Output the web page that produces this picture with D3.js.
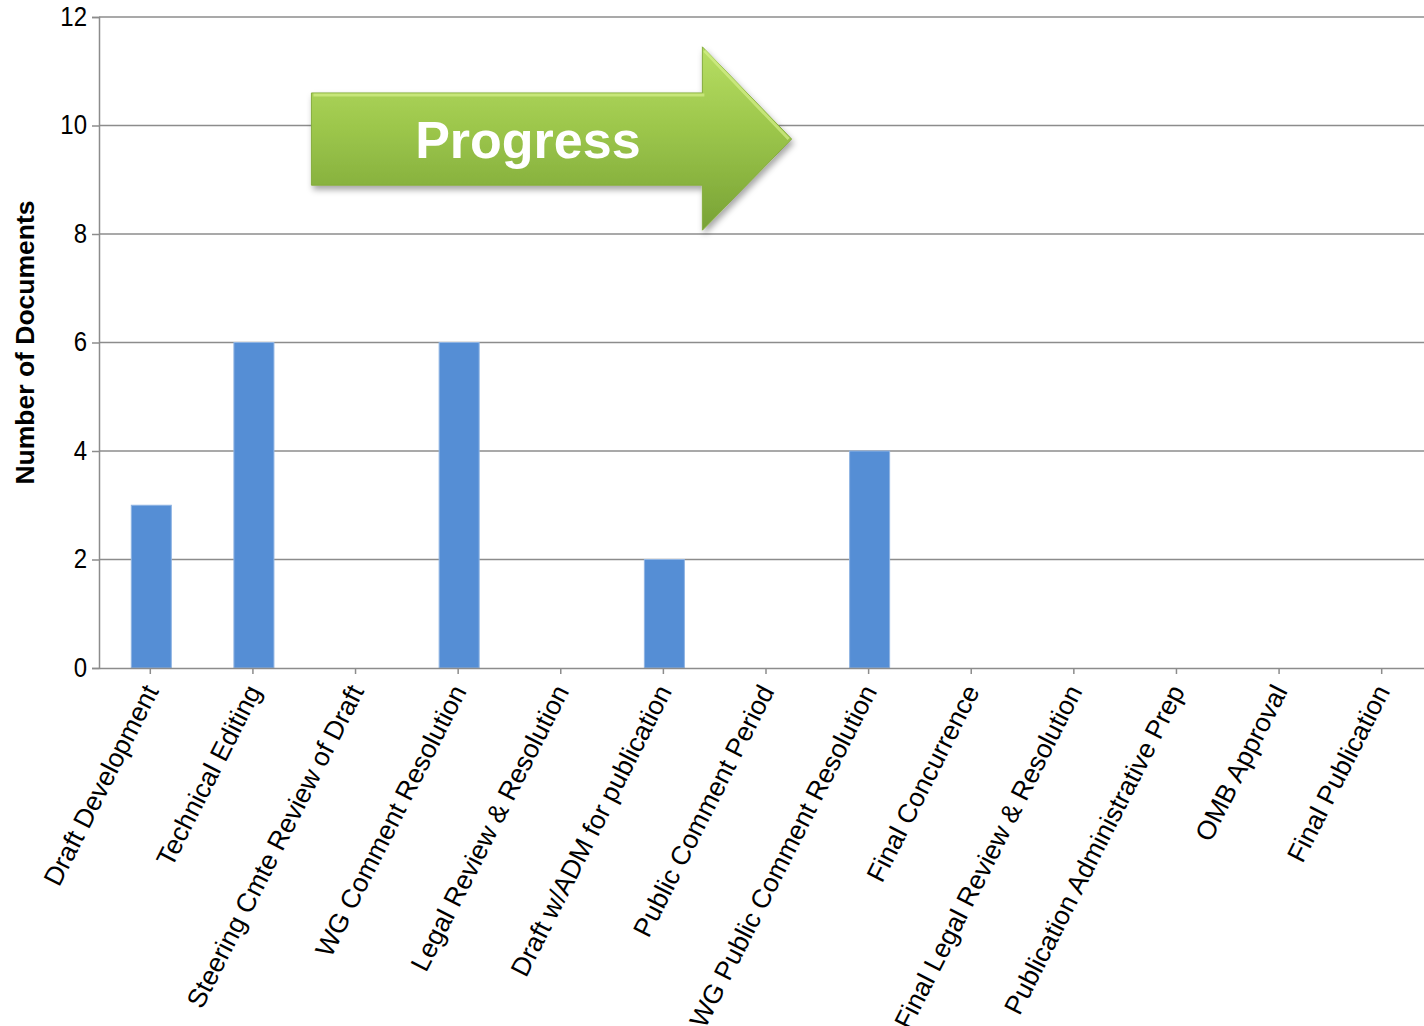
<!DOCTYPE html>
<html>
<head>
<meta charset="utf-8">
<script src="https://cdn.jsdelivr.net/npm/d3@7"></script>
<style>
  body { margin: 0; background: #fff; }
  text { font-family: "Liberation Sans", Arial, sans-serif; }
</style>
</head>
<body>
<script>
var categories = ["Draft Development", "Technical Editing", "Steering Cmte Review of Draft",
  "WG Comment Resolution", "Legal Review & Resolution", "Draft w/ADM for publication",
  "Public Comment Period", "WG Public Comment Resolution", "Final Concurrence",
  "Final Legal Review & Resolution", "Publication Administrative Prep", "OMB Approval",
  "Final Publication"];
var documents = [3, 6, 0, 6, 0, 2, 0, 4, 0, 0, 0, 0, 0];
var yTicks = [0, 2, 4, 6, 8, 10, 12];

d3.select("body").append("svg")
  .attr("width", 1424)
  .attr("height", 1026);

var svg = d3.select("svg");

var margin = { top: 17, left: 99, bottom: 358 };
var height = 1026 - margin.top - margin.bottom;

var xScale = d3.scaleBand().domain(categories).range([margin.left, 1433]).paddingInner(0.61).paddingOuter(0.305);
var yScale = d3.scaleLinear().domain([0, 12]).range([margin.top + height, margin.top]);

// gridlines
svg.append("g").selectAll("line")
  .data(yTicks.filter(function(d) { return d > 0; }))
  .enter().append("line")
  .attr("x1", margin.left).attr("x2", 1424)
  .attr("y1", function(d) { return yScale(d); })
  .attr("y2", function(d) { return yScale(d); })
  .attr("stroke", "#8c8c8c").attr("stroke-width", 1.5);

// bars
svg.append("g").selectAll("rect")
  .data(documents)
  .enter().append("rect")
  .attr("x", function(d, i) { return xScale(categories[i]) + 1; })
  .attr("width", xScale.bandwidth())
  .attr("y", function(d) { return yScale(d); })
  .attr("height", function(d) { return yScale(0) - yScale(d); })
  .attr("fill", "#558ed5")
  .attr("stroke", "#8fb4e3").attr("stroke-width", d => d > 0 ? 1 : 0);

// y axis
var yAxis = svg.append("g")
  .attr("transform", "translate(" + margin.left + ",0)")
  .call(d3.axisLeft(yScale).tickValues(yTicks).tickSize(7).tickPadding(5));
yAxis.select(".domain").attr("stroke", "#8c8c8c").attr("stroke-width", 1.5);
yAxis.selectAll(".tick line").attr("stroke", "#8c8c8c").attr("stroke-width", 1.5);
yAxis.selectAll(".tick text").style("font-size", "24px").attr("fill", "#000")
  .attr("transform", "scale(1,1.12)").attr("dy", "0.3em");

// x axis
var xAxis = svg.append("g")
  .attr("transform", "translate(0," + yScale(0) + ")")
  .call(d3.axisBottom(xScale).tickSize(6).tickSizeOuter(0));
xAxis.select(".domain").attr("stroke", "#8c8c8c").attr("stroke-width", 1.5);
xAxis.selectAll(".tick line").attr("stroke", "#8c8c8c").attr("stroke-width", 1.5);
xAxis.selectAll(".tick text")
  .style("font-size", "26.5px").attr("fill", "#000")
  .attr("text-anchor", "end")
  .attr("x", 0).attr("y", 0).attr("dy", 0)
  .attr("transform", "translate(9,23) rotate(-63)");

// y axis title
svg.append("text")
  .attr("transform", "translate(34," + (margin.top + height / 2) + ") rotate(-90)")
  .attr("text-anchor", "middle")
  .style("font-size", "26.5px")
  .style("font-weight", "bold")
  .text("Number of Documents");

// progress arrow
var defs = svg.append("defs");
var grad = defs.append("linearGradient").attr("id", "green").attr("x1", 0).attr("y1", 0).attr("x2", 0).attr("y2", 1);
grad.append("stop").attr("offset", "0%").attr("stop-color", "#b7de63");
grad.append("stop").attr("offset", "45%").attr("stop-color", "#9cc64b");
grad.append("stop").attr("offset", "100%").attr("stop-color", "#78a235");
var shadow = defs.append("filter").attr("id", "shadow").attr("x", "-10%").attr("y", "-10%").attr("width", "130%").attr("height", "140%");
shadow.append("feDropShadow").attr("dx", 2).attr("dy", 4).attr("stdDeviation", 3).attr("flood-color", "#000").attr("flood-opacity", 0.35);

var ax0 = margin.left + xScale.step() * 2.07;
var ax1 = margin.left + xScale.step() * 5.88;
var ax2 = margin.left + xScale.step() * 6.75;
var bodyTop = yScale(10.6), bodyBot = yScale(8.9);
var headTop = yScale(11.45), headBot = yScale(8.07), mid = yScale(9.75);

var arrow = d3.path();
arrow.moveTo(ax0, bodyTop);
arrow.lineTo(ax1, bodyTop);
arrow.lineTo(ax1, headTop);
arrow.lineTo(ax2, mid);
arrow.lineTo(ax1, headBot);
arrow.lineTo(ax1, bodyBot);
arrow.lineTo(ax0, bodyBot);
arrow.closePath();

svg.append("path")
  .attr("d", arrow.toString())
  .attr("fill", "url(#green)")
  .attr("stroke", "#86ad3f").attr("stroke-width", 1)
  .attr("filter", "url(#shadow)");

// bevel highlight along top edge
svg.append("path")
  .attr("d", "M" + (ax0 + 2) + "," + (bodyTop + 2) + "L" + (ax1 + 2) + "," + (bodyTop + 2) + "M" + (ax1 + 2) + "," + (headTop + 4) + "L" + (ax2 - 3) + "," + mid)
  .attr("stroke", "#d4f08a").attr("stroke-width", 3).attr("fill", "none").attr("opacity", 0.7);

svg.append("text")
  .attr("x", (ax0 + ax1) / 2 + 21)
  .attr("y", mid + 19)
  .attr("text-anchor", "middle")
  .attr("fill", "#fff")
  .style("font-size", "52px")
  .style("font-weight", "bold")
  .text("Progress");
</script>
</body>
</html>
